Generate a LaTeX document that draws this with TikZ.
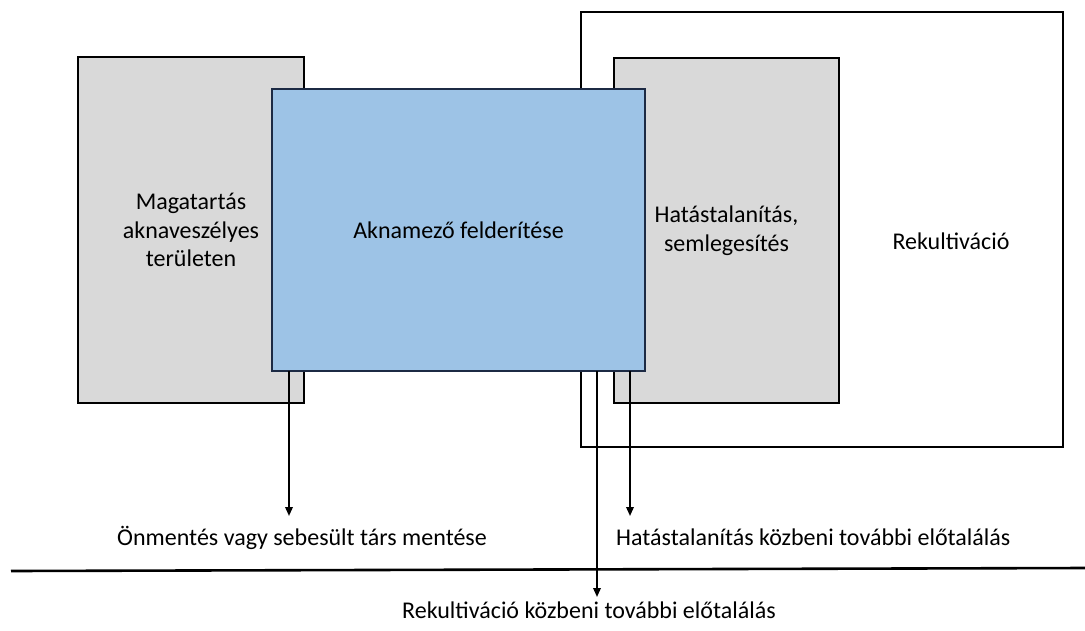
\documentclass[tikz,border=0pt]{standalone}
\usepackage{fontspec}
\setmainfont{Carlito}
\usetikzlibrary{arrows.meta}
\definecolor{boxgray}{HTML}{D9D9D9}
\definecolor{boxblue}{HTML}{9DC3E6}
\definecolor{blueedge}{HTML}{1C2A44}
\begin{document}
\begin{tikzpicture}[x=1pt,y=-1pt,
  panel/.style={draw=black,line width=1.4pt,rectangle,inner sep=0pt,outer sep=0pt,
    font=\fontsize{24}{28.5}\selectfont,align=center},
  lbl/.style={inner sep=0pt,font=\fontsize{24}{28.5}\selectfont},
  arr/.style={line width=1.8pt,-{Triangle[length=9pt,width=7.5pt]}}]
\useasboundingbox (0,0) rectangle (1085,630);
% phase rectangles, back to front
\node[panel,fill=white,minimum width=482pt,minimum height=435pt] (rek) at (822,229.5) {};
\node[panel,fill=boxgray,minimum width=226pt,minimum height=346pt] (mag) at (191,230)
  {Magatartás\\aknaveszélyes\\területen};
\node[panel,fill=boxgray,minimum width=225pt,minimum height=345pt] (hat) at (726.5,230.5)
  {Hatástalanítás,\\semlegesítés};
\node[panel,draw=blueedge,fill=boxblue,minimum width=373pt,minimum height=282pt] (akn) at (458.5,230)
  {Aknamező felderítése};
\node[lbl] (rekt) at (951,241) {Rekultiváció};
% ground line
\coordinate (gl) at (11,571);
\coordinate (gr) at (1085,568);
\draw[line width=2.6pt] (gl) -- (gr);
% outcome arrows
\coordinate (e1) at (289,516);
\coordinate (e2) at (630,516);
\coordinate (e3) at (597,597);
\draw[arr] (akn.south -| e1) -- (e1);
\draw[arr] (akn.south -| e2) -- (e2);
\draw[arr] (akn.south -| e3) -- (e3);
\node[lbl,anchor=base] (o1) at (302,545) {Önmentés vagy sebesült társ mentése};
\node[lbl,anchor=base west] (o2) at (616,545) {Hatástalanítás közbeni további előtalálás};
\node[lbl,anchor=base] (o3) at (589,618) {Rekultiváció közbeni további előtalálás};
\end{tikzpicture}
\end{document}
